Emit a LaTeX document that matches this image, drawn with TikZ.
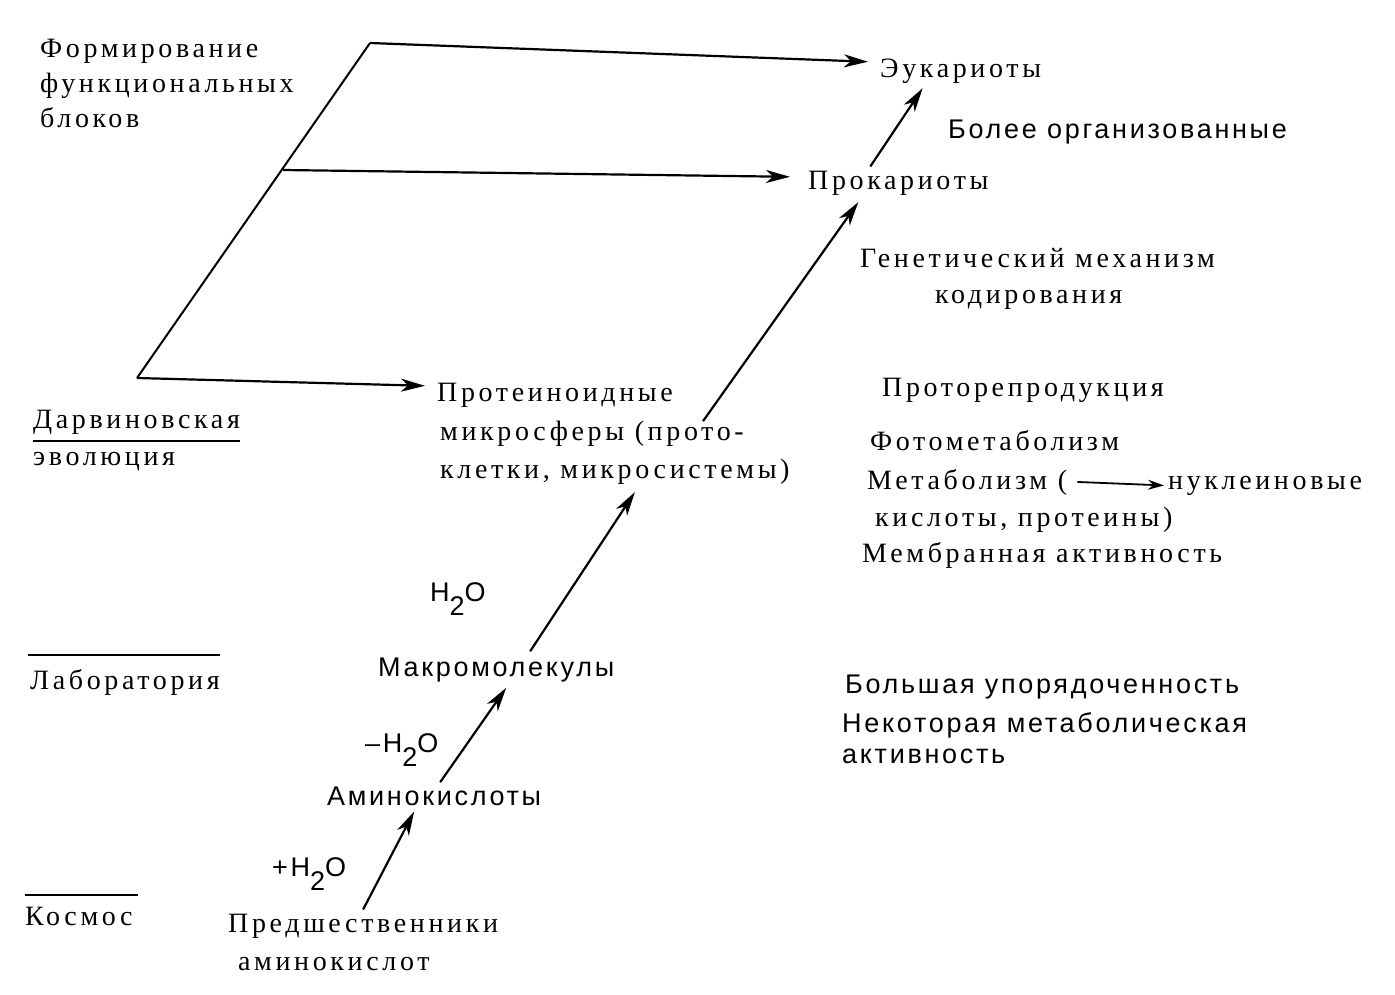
\documentclass[tikz,border=0pt]{standalone}
\usepackage{fontspec}
\usetikzlibrary{arrows.meta,calc}
\newfontfamily\serifT[LetterSpace=13]{Liberation Serif}
\newfontfamily\sansT[LetterSpace=10]{Liberation Sans}
\newcommand{\subtwo}{\raisebox{-0.55em}{2}}
\begin{document}
\begin{tikzpicture}[x=1pt,y=-1pt,
  sr/.style={anchor=base west,inner sep=0pt,font=\serifT\fontsize{28}{35}\selectfont},
  sn/.style={anchor=base west,inner sep=0pt,font=\sansT\fontsize{27}{35}\selectfont},
  arr/.style={line width=2.2pt,-{Stealth[length=24pt,width=13pt,inset=7pt]}},
  ln/.style={line width=2pt},
  rule/.style={line width=1.6pt}]
\fill[white] (0,0) rectangle (1395,995);
\useasboundingbox (0,0) rectangle (1395,995);
% left labels
\node[sr] (form1) at (40,58) {Формирование};
\node[sr] (form2) at (40,93) {функциональных};
\node[sr] (form3) at (40,128) {блоков};
\node[sr] (darw1) at (33,428) {Дарвиновская};
\node[sr] (darw2) at (33,465) {эволюция};
\node[sr] (lab) at (30,689) {Лаборатория};
\node[sr] (kosm) at (25,925) {Космос};
\coordinate (r1a) at (33,441); \coordinate (r1b) at (240,441);
\coordinate (r2a) at (28,655); \coordinate (r2b) at (220,655);
\coordinate (r3a) at (25,895); \coordinate (r3b) at (138,895);
\draw[rule] (r1a) -- (r1b);
\draw[rule] (r2a) -- (r2b);
\draw[rule] (r3a) -- (r3b);
% main chain
\node[sr] (euk) at (880,78) {Эукариоты};
\node[sn] (bol) at (948,139) {Более организованные};
\node[sr] (prok) at (808,190) {Прокариоты};
\node[sr] (gen1) at (860,268) {Генетический механизм};
\node[sr] (gen2) at (935,303) {кодирования};
\node[sr] (prot1) at (437,401) {Протеиноидные};
\node[sr] (prot2) at (440,440) {микросферы (прото-};
\node[sr] (prot3) at (440,478) {клетки, микросистемы)};
\node[sr] (repr) at (882,396) {Проторепродукция};
\node[sr] (foto) at (870,450) {Фотометаболизм};
\node[sr] (met1) at (867,489) {Метаболизм (};
\node[sr] (met2) at (1168,489) {нуклеиновые};
\node[sr] (met3) at (875,526) {кислоты, протеины)};
\node[sr] (memb) at (862,562) {Мембранная активность};
\node[sn] (h2o1) at (430,601) {H\subtwo O};
\node[sn] (macro) at (378,676) {Макромолекулы};
\node[sn] (h2o2) at (365,752) {–H\subtwo O};
\node[sn] (amino) at (327,805) {Аминокислоты};
\node[sn] (h2o3) at (272,876) {+H\subtwo O};
\node[sr] (prec1) at (228,932) {Предшественники};
\node[sr] (prec2) at (238,970) {аминокислот};
\node[sn] (ord1) at (845,693) {Большая упорядоченность};
\node[sn] (ord2) at (842,732) {Некоторая метаболическая};
\node[sn] (ord3) at (842,763) {активность};
% left frame
\coordinate (c1) at (137,378);
\coordinate (c2) at (370,43);
\coordinate (c3) at (283,170);
\draw[ln] (c2) -- (c1);
\draw[arr] (c2) -- ($(euk.west)+(-12,-10)$);
\draw[arr] (c3) -- ($(prok.west)+(-18,-7)$);
\draw[arr] (c1) -- ($(prot1.west)+(-12,-9)$);
% chain arrows
\draw[arr] ($(prec1.north)+(0,-4)$) -- ($(amino.south)+(-20,6)$);
\draw[arr] ($(amino.north)+(6,-4)$) -- ($(macro.south)+(10,6)$);
\draw[arr] ($(macro.north)+(34,-6)$) -- ($(prot3.south)+(20,8)$);
\draw[arr] ($(prot1.south east)+(30,14)$) -- ($(prok.south)+(-40,6)$);
\draw[arr] ($(prok.north)+(-28,-5)$) -- ($(euk.south)+(-38,4)$);
\draw[line width=1.8pt,-{Stealth[length=16pt,width=10pt]}] ($(met1.east)+(10,0)$) -- ($(met2.west)+(-4,0)$);
\end{tikzpicture}
\end{document}
